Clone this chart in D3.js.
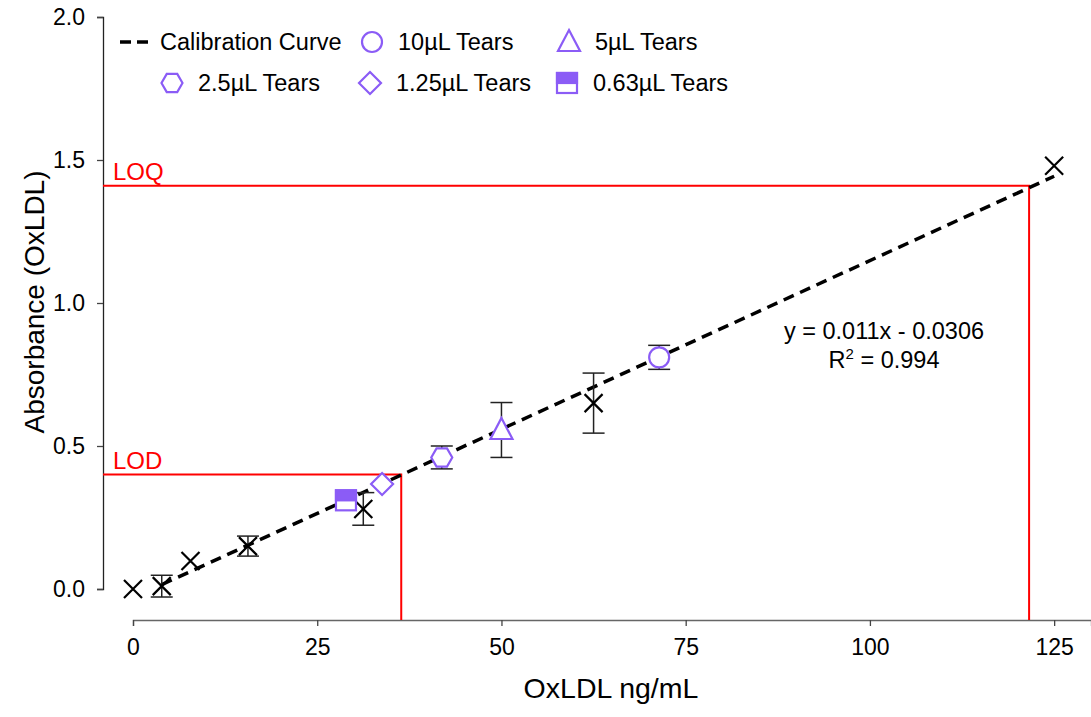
<!DOCTYPE html>
<html>
<head>
<meta charset="utf-8">
<script src="https://cdn.jsdelivr.net/npm/d3@7"></script>
<style>
  body { margin: 0; background: #fff; }
  text { font-family: "Liberation Sans", Arial, sans-serif; }
</style>
</head>
<body>
<div id="wrapper"></div>
<script>
// calibration standards (ng/mL, absorbance, sd)
const stdX = [0, 3.9, 7.8, 15.6, 31.25, 62.5, 125];
const stdY = [0.0, 0.01, 0.098, 0.15, 0.28, 0.65, 1.48];
const stdErr = [0, 0.038, 0, 0.035, 0.057, 0.105, 0];

// tear samples
const tearNames = ["10µL Tears", "5µL Tears", "2.5µL Tears", "1.25µL Tears", "0.63µL Tears"];
const tearSymbols = ["circle", "triangle", "hexagon", "diamond", "halfSquare"];
const tearX = [71.4, 50, 41.9, 33.8, 28.9];
const tearY = [0.81, 0.556, 0.46, 0.367, 0.31];
const tearErr = [0.042, 0.096, 0.04, 0, 0];

// fit and limits
const fitSlope = 0.01179;
const fitIntercept = -0.0306;
const fitRange = [3.9, 125];
const limitNames = ["LOD", "LOQ"];
const limitX = [36.4, 121.6];
const limitY = [0.40, 1.41];

const xTicks = [0, 25, 50, 75, 100, 125];
const yTicks = [0, 0.5, 1.0, 1.5, 2.0];

const width = 1091;
const height = 717;
const purple = "#8b5cf6";
const labelSize = "23.5px";

const svg = d3.select("#wrapper").append("svg")
  .attr("width", width)
  .attr("height", height);

const xScale = d3.scaleLinear().domain([0, 130]).range([133, 1091]);
const yScale = d3.scaleLinear().domain([0, 2]).range([589, 17]);
const xAxisY = 620;
const yAxisX = 103;

// axes
const xAxis = svg.append("g")
  .attr("transform", `translate(0, ${xAxisY})`)
  .call(d3.axisBottom(xScale).tickValues(xTicks).tickSizeOuter(0).tickSize(6).tickPadding(13));
xAxis.selectAll("text")
  .style("font-size", "23px")
  .attr("fill", "#000");
xAxis.select(".domain").attr("stroke", "#666");

const yAxis = svg.append("g")
  .attr("transform", `translate(${yAxisX}, 0)`)
  .call(d3.axisLeft(yScale).tickValues(yTicks).tickFormat(d3.format(".1f")).tickSizeOuter(0).tickSize(6).tickPadding(12));
yAxis.selectAll("text")
  .style("font-size", "23px")
  .attr("fill", "#000");
yAxis.select(".domain").attr("stroke", "#222");

svg.selectAll(".tick line").attr("stroke", "#444").attr("stroke-width", 1.3);
svg.selectAll(".domain").attr("stroke-width", 1.3);

svg.append("text")
  .attr("x", 611).attr("y", 698)
  .attr("text-anchor", "middle")
  .style("font-size", "28.5px")
  .text("OxLDL ng/mL");

svg.append("text")
  .attr("transform", "translate(44, 302) rotate(-90)")
  .attr("text-anchor", "middle")
  .style("font-size", "28px")
  .text("Absorbance (OxLDL)");

// LOD / LOQ lines
limitNames.forEach((name, i) => {
  svg.append("path")
    .attr("d", `M${yAxisX},${yScale(limitY[i])}H${xScale(limitX[i])}V${xAxisY}`)
    .attr("fill", "none")
    .attr("stroke", "#ff0000")
    .attr("stroke-width", 2);
  svg.append("text")
    .attr("x", 113).attr("y", yScale(limitY[i]) - 6)
    .attr("fill", "#ff0000")
    .style("font-size", "24px")
    .text(name);
});

// fit line
svg.append("line")
  .attr("x1", xScale(fitRange[0])).attr("y1", yScale(fitSlope * fitRange[0] + fitIntercept))
  .attr("x2", xScale(fitRange[1])).attr("y2", yScale(fitSlope * fitRange[1] + fitIntercept))
  .attr("stroke", "#000")
  .attr("stroke-width", 3.5)
  .attr("stroke-dasharray", "11 7");

// error bars
const drawError = (x, y, e) => {
  if (!e) return;
  const g = svg.append("g").attr("stroke", "#222").attr("stroke-width", 1.5);
  const cx = xScale(x);
  g.append("line").attr("x1", cx).attr("x2", cx).attr("y1", yScale(y - e)).attr("y2", yScale(y + e));
  [y - e, y + e].forEach(v => {
    g.append("line").attr("x1", cx - 11).attr("x2", cx + 11).attr("y1", yScale(v)).attr("y2", yScale(v));
  });
};

stdX.forEach((x, i) => drawError(x, stdY[i], stdErr[i]));
tearX.forEach((x, i) => drawError(x, tearY[i], tearErr[i]));

// X markers for standards
stdX.forEach((x, i) => {
  const cx = xScale(x), cy = yScale(stdY[i]), s = 9;
  svg.append("path")
    .attr("d", `M${cx - s},${cy - s}L${cx + s},${cy + s}M${cx - s},${cy + s}L${cx + s},${cy - s}`)
    .attr("stroke", "#000")
    .attr("stroke-width", 2.2);
});

// purple symbols
const drawSymbol = (type, cx, cy) => {
  const g = svg.append("g").attr("transform", `translate(${cx},${cy})`);
  const style = sel => sel.attr("fill", "#fff").attr("stroke", purple).attr("stroke-width", 2.2);
  if (type === "circle") {
    g.append("circle").attr("r", 10).call(style);
  } else if (type === "triangle") {
    g.append("path").attr("d", "M0,-12L11,9L-11,9Z").call(style);
  } else if (type === "hexagon") {
    const pts = d3.range(6).map(k => {
      const a = Math.PI / 3 * k;
      return [10.5 * Math.cos(a), 10.5 * Math.sin(a)];
    });
    g.append("path").attr("d", "M" + pts.join("L") + "Z").call(style);
  } else if (type === "diamond") {
    g.append("path").attr("d", "M0,-11L11,0L0,11L-11,0Z").call(style);
  } else if (type === "halfSquare") {
    g.append("rect").attr("x", -10).attr("y", -10).attr("width", 20).attr("height", 20).call(style);
    g.append("rect").attr("x", -10).attr("y", -10).attr("width", 20).attr("height", 10)
      .attr("fill", purple).attr("stroke", purple).attr("stroke-width", 2.2);
  }
};

tearX.forEach((x, i) => drawSymbol(tearSymbols[i], xScale(x), yScale(tearY[i])));

// equation
svg.append("text").attr("x", 884).attr("y", 339).attr("text-anchor", "middle")
  .style("font-size", labelSize).text("y = 0.011x - 0.0306");
const r2 = svg.append("text").attr("x", 884).attr("y", 368).attr("text-anchor", "middle")
  .style("font-size", labelSize);
r2.append("tspan").text("R");
r2.append("tspan").attr("dy", -9).style("font-size", "15px").text("2");
r2.append("tspan").attr("dy", 9).text(" = 0.994");

// legend
const legendItems = [
  { type: "line", label: "Calibration Curve", x: 120, y: 42 },
  { type: "circle", label: tearNames[0], x: 372, y: 42 },
  { type: "triangle", label: tearNames[1], x: 569, y: 42 },
  { type: "hexagon", label: tearNames[2], x: 172, y: 83 },
  { type: "diamond", label: tearNames[3], x: 370, y: 83 },
  { type: "halfSquare", label: tearNames[4], x: 567, y: 83 },
];

legendItems.forEach(item => {
  let textX;
  if (item.type === "line") {
    svg.append("line")
      .attr("x1", item.x).attr("x2", item.x + 28)
      .attr("y1", item.y).attr("y2", item.y)
      .attr("stroke", "#000").attr("stroke-width", 3.5)
      .attr("stroke-dasharray", "11 6");
    textX = item.x + 40;
  } else {
    drawSymbol(item.type, item.x, item.y);
    textX = item.x + 26;
  }
  svg.append("text")
    .attr("x", textX).attr("y", item.y + 8)
    .style("font-size", labelSize)
    .text(item.label);
});
</script>
</body>
</html>
